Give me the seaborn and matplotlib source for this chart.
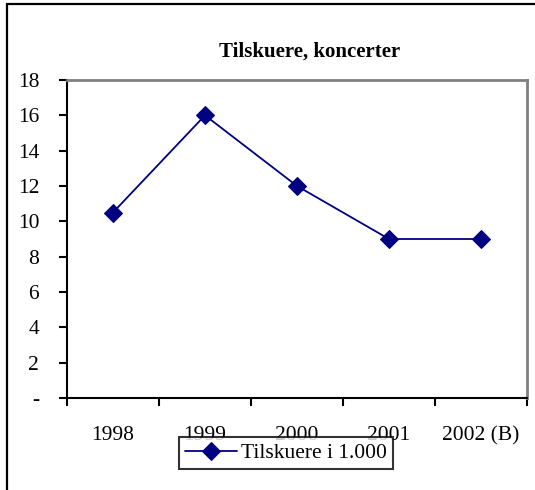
import matplotlib
matplotlib.use("Agg")
import matplotlib.pyplot as plt
import seaborn as sns
import pandas as pd

years = ['1998', '1999', '2000', '2001', '2002 (B)']
tilskuere = [10.5, 16, 12, 9, 9]
y_ticks = [0, 2, 4, 6, 8, 10, 12, 14, 16, 18]
y_labels = ['-', '2', '4', '6', '8', '10', '12', '14', '16', '18']

sns.set_theme(style='white')
plt.rcParams['font.family'] = ['Liberation Serif', 'DejaVu Serif']
plt.rcParams['text.color'] = 'black'
plt.rcParams['xtick.color'] = 'black'
plt.rcParams['ytick.color'] = 'black'

df = pd.DataFrame({'pos': range(len(years)), 'val': tilskuere})

fig = plt.figure(figsize=(5.35, 4.9), dpi=100)
ax = fig.add_axes([67/535, 1-398/490, (527-67)/535, (398-80)/490])

sns.lineplot(data=df, x='pos', y='val', ax=ax, color='#000080', marker='D',
             markersize=9, markeredgecolor='#000080', linewidth=1.3,
             label='Tilskuere i 1.000', legend=False)

ax.set_xlim(-0.5, len(years) - 0.5)
ax.set_ylim(0, 18)
ax.set_yticks(y_ticks)
ax.set_yticklabels(y_labels, fontsize=15.5)
# boundaries get tick marks, category centres get labels
ax.set_xticks([i - 0.5 for i in range(len(years) + 1)])
ax.set_xticklabels([])
ax.set_xticks(range(len(years)), minor=True)
ax.set_xticklabels(years, minor=True, fontsize=15.5)
ax.tick_params(axis='x', which='major', direction='out', length=6, width=1.5, color='black', bottom=True)
ax.tick_params(axis='x', which='minor', length=0, pad=20, labelcolor='black')
ax.tick_params(axis='y', direction='out', length=6, width=1.5, color='black', left=True, pad=14, labelcolor='black')
ax.set_xlabel('')
ax.set_ylabel('')

for side in ['left', 'bottom']:
    ax.spines[side].set_color('black')
    ax.spines[side].set_linewidth(1.5)
for side in ['top', 'right']:
    ax.spines[side].set_color('#808080')
    ax.spines[side].set_linewidth(2)

fig.text(310/535, 1-52/490, 'Tilskuere, koncerter', ha='center', va='center',
         fontsize=15, fontweight='bold', color='black')

leg = fig.legend(*ax.get_legend_handles_labels(), loc='center',
                 bbox_to_anchor=(286/535, 1-453/490), fontsize=15.5,
                 frameon=True, fancybox=False, borderpad=0.3,
                 handlelength=2.4, handletextpad=0.2, borderaxespad=0)
leg.get_frame().set_edgecolor('black')
leg.get_frame().set_linewidth(1.5)
for t in leg.get_texts():
    t.set_color('black')

# outer chart frame (right/bottom edges fall outside the image)
fig.add_artist(plt.Rectangle((6.5/535, -0.1), 1.2, 1 - 4/490 + 0.1,
                             transform=fig.transFigure, fill=False,
                             edgecolor='black', linewidth=1.6))

fig.savefig('out.png', dpi=100)
